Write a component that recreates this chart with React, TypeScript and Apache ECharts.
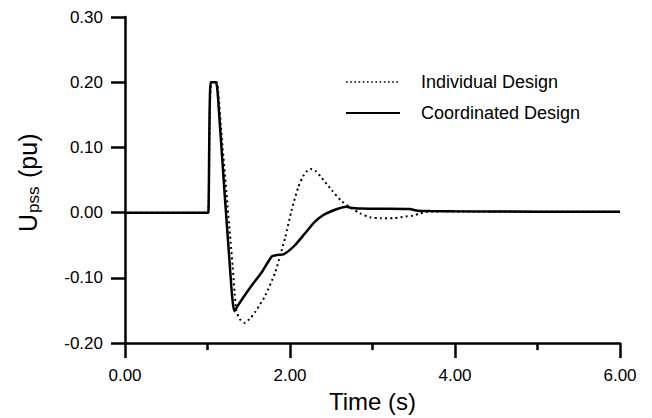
import React, { useEffect, useRef } from "react";
import * as echarts from "echarts";

// Time axis (s) and values (pu)
const indivTime = [0, 1.0, 1.01, 1.045, 1.11, 1.13, 1.17, 1.23, 1.28, 1.305, 1.33, 1.35, 1.39, 1.45, 1.51, 1.58, 1.7, 1.82, 1.88, 1.94, 2.02, 2.1, 2.16, 2.2, 2.25, 2.31, 2.38, 2.51, 2.63, 2.73, 2.85, 2.97, 3.1, 3.25, 3.4, 3.49, 3.58, 3.66, 3.85, 4.2, 6.0];
const indivValue = [0, 0, 0, 0.2, 0.2, 0.185, 0.12, 0.03, -0.045, -0.082, -0.125, -0.15, -0.163, -0.169, -0.163, -0.152, -0.127, -0.092, -0.066, -0.039, 0.004, 0.039, 0.056, 0.063, 0.067, 0.064, 0.054, 0.034, 0.017, 0.008, -0.001, -0.007, -0.0085, -0.0085, -0.006, -0.0045, -0.001, 0.001, 0.002, 0.0015, 0.0015];

const coordTime = [0, 1.0, 1.01, 1.04, 1.1, 1.12, 1.15, 1.21, 1.27, 1.3, 1.325, 1.36, 1.45, 1.54, 1.66, 1.78, 1.84, 1.92, 1.98, 2.06, 2.18, 2.3, 2.4, 2.48, 2.58, 2.68, 2.76, 2.85, 3.0, 3.2, 3.45, 3.55, 3.7, 4.0, 5.0, 6.0];
const coordValue = [0, 0, 0, 0.2, 0.2, 0.188, 0.135, 0.025, -0.08, -0.13, -0.151, -0.144, -0.127, -0.111, -0.091, -0.067, -0.065, -0.064, -0.059, -0.05, -0.032, -0.014, -0.004, 0.001, 0.006, 0.009, 0.007, 0.0065, 0.006, 0.006, 0.0055, 0.003, 0.0025, 0.002, 0.0015, 0.0015];

const seriesNames = ["Individual Design", "Coordinated Design"];
const xTicks = [0, 2, 4, 6];
const yTicks = [-0.2, -0.1, 0, 0.1, 0.2, 0.3];
const xTitle = "Time (s)";
const yTitleMain = "U";
const yTitleSub = "pss";
const yTitleUnit = "(pu)";

const FONT = '"Liberation Sans", Arial, sans-serif';

export default function App() {
  const ref = useRef<HTMLDivElement>(null);
  useEffect(() => {
    if (!ref.current) return;
    const chart = echarts.init(ref.current, undefined, { renderer: "svg" });
    const pair = (t: number[], v: number[]) => t.map((x, i) => [x, v[i]]);
    const axisColor = "#000";
    const legendText = (y: number, text: string) => ({
      type: "text",
      x: 421,
      y,
      style: { text, fontSize: 18, fontFamily: FONT, fill: "#000", align: "left", verticalAlign: "middle" },
    });
    chart.setOption({
      animation: false,
      backgroundColor: "#fff",
      grid: { left: 125, right: 32, top: 17, bottom: 70, containLabel: false },
      xAxis: {
        type: "value",
        min: xTicks[0],
        max: xTicks[xTicks.length - 1],
        interval: 2,
        name: xTitle,
        nameLocation: "middle",
        nameGap: 42,
        nameTextStyle: { fontSize: 24, fontFamily: FONT, color: "#000" },
        axisLine: { show: true, onZero: false, lineStyle: { color: axisColor, width: 2.5 } },
        axisTick: { show: true, length: 15, lineStyle: { color: axisColor, width: 2.5 } },
        minorTick: { show: true, splitNumber: 2, length: 7, lineStyle: { color: axisColor, width: 2.5 } },
        splitLine: { show: false },
        axisLabel: {
          margin: 24,
          fontSize: 17,
          fontFamily: FONT,
          color: "#000",
          formatter: (v: number) => v.toFixed(2),
        },
      },
      yAxis: {
        type: "value",
        min: yTicks[0],
        max: yTicks[yTicks.length - 1],
        interval: 0.1,
        axisLine: { show: true, onZero: false, lineStyle: { color: axisColor, width: 2.5 } },
        axisTick: { show: true, length: 14, lineStyle: { color: axisColor, width: 2.5 } },
        splitLine: { show: false },
        axisLabel: {
          margin: 22,
          fontSize: 17,
          fontFamily: FONT,
          color: "#000",
          formatter: (v: number) => v.toFixed(2),
        },
      },
      graphic: [
        {
          type: "group",
          x: 27.5,
          y: 232,
          rotation: Math.PI / 2,
          children: [
            { type: "text", x: 0, y: 0, style: { text: yTitleMain, fontSize: 25, fontFamily: FONT, fill: "#000", align: "left", verticalAlign: "middle" } },
            { type: "text", x: 19, y: 6, style: { text: yTitleSub, fontSize: 17, fontFamily: FONT, fill: "#000", align: "left", verticalAlign: "middle" } },
            { type: "text", x: 54, y: 0, style: { text: yTitleUnit, fontSize: 25, fontFamily: FONT, fill: "#000", align: "left", verticalAlign: "middle" } },
          ],
        },
        {
          type: "line",
          shape: { x1: 346, y1: 82, x2: 400, y2: 82 },
          style: { stroke: "#000", lineWidth: 1.6, lineDash: [1.6, 2.6] },
        },
        legendText(82, seriesNames[0]),
        {
          type: "line",
          shape: { x1: 346, y1: 113, x2: 400, y2: 113 },
          style: { stroke: "#000", lineWidth: 2.2 },
        },
        legendText(113, seriesNames[1]),
      ],
      series: [
        {
          name: seriesNames[0],
          type: "line",
          data: pair(indivTime, indivValue),
          symbol: "none",
          smooth: 0.25,
          lineStyle: { color: "#000", width: 2, type: [2, 3.2] },
          itemStyle: { color: "#000" },
          z: 2,
        },
        {
          name: seriesNames[1],
          type: "line",
          data: pair(coordTime, coordValue),
          symbol: "none",
          smooth: 0.25,
          lineStyle: { color: "#000", width: 2.5, type: "solid" },
          itemStyle: { color: "#000" },
          z: 3,
        },
      ],
    });
    return () => chart.dispose();
  }, []);
  return <div ref={ref} style={{ position: "fixed", left: 0, top: 0, width: 652, height: 418, background: "#fff" }} />;
}
